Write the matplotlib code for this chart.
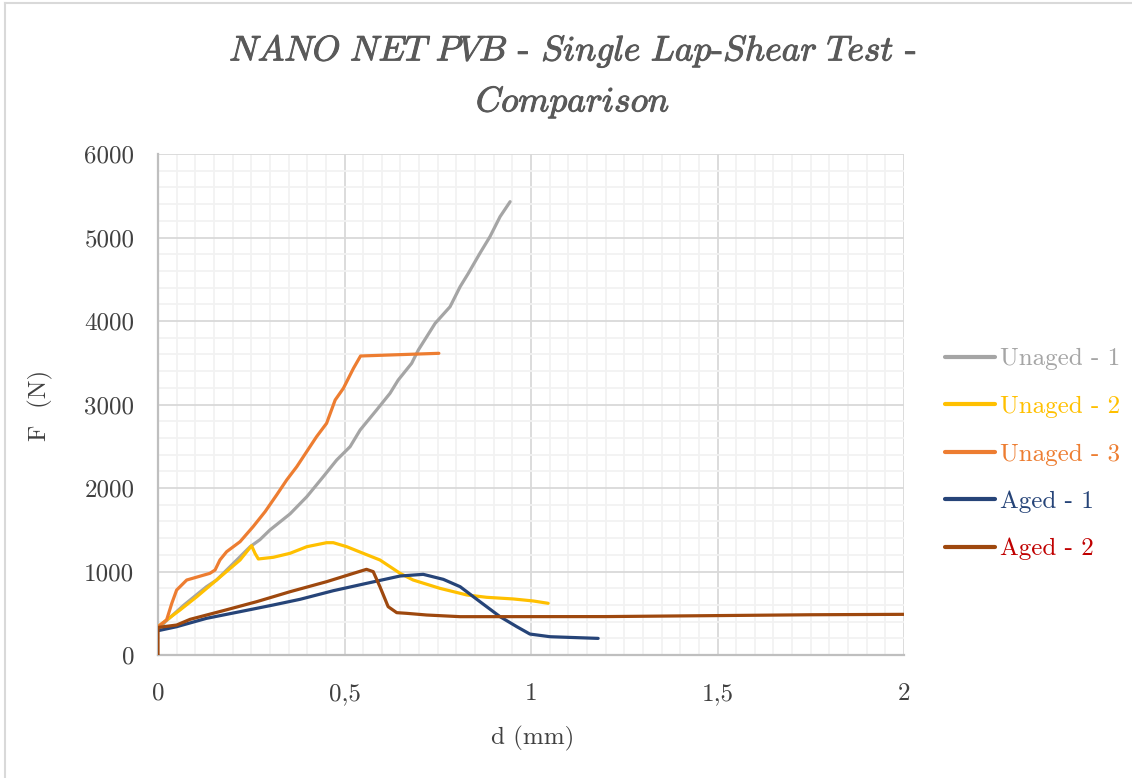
import matplotlib
matplotlib.use("Agg")
import matplotlib.pyplot as plt
import matplotlib.patheffects as pe
from matplotlib.ticker import FixedLocator, MultipleLocator, FuncFormatter
from matplotlib.lines import Line2D

# Displacement d (mm) and force F (N) for each lap-shear specimen
unaged1_d = [0.0, 0.02, 0.07, 0.13, 0.157, 0.22, 0.247, 0.273, 0.30, 0.354, 0.399,
             0.443, 0.479, 0.515, 0.542, 0.586, 0.622, 0.644, 0.680, 0.698, 0.743, 0.783, 0.81,
             0.832, 0.863, 0.89, 0.917, 0.944]
unaged1_F = [300, 400, 600, 818, 898, 1177, 1297, 1380, 1497, 1690, 1896,
             2135, 2335, 2495, 2695, 2934, 3134, 3293, 3493, 3653, 3972, 4171, 4411,
             4571, 4811, 5010, 5249, 5429]

unaged2_d = [0.0, 0.023, 0.059, 0.104, 0.157, 0.22, 0.251, 0.26, 0.269, 0.309, 0.354, 0.399,
             0.452, 0.470, 0.506, 0.55, 0.595, 0.649, 0.684, 0.756, 0.828, 0.881, 0.953,
             1.006, 1.046]
unaged2_F = [339, 419, 539, 698, 898, 1138, 1309, 1218, 1150, 1170, 1218, 1297,
             1345, 1345, 1297, 1218, 1138, 978, 898, 798, 719, 691, 671,
             647, 619]

unaged3_d = [0.0, 0.023, 0.037, 0.05, 0.077, 0.139, 0.153, 0.166, 0.184, 0.22, 0.255, 0.287,
             0.318, 0.345, 0.372, 0.425, 0.452, 0.475, 0.497, 0.524, 0.543, 0.753]
unaged3_F = [339, 419, 619, 778, 898, 978, 1018, 1138, 1237, 1357, 1537, 1716,
             1916, 2096, 2255, 2614, 2775, 3054, 3194, 3433, 3581, 3613]

aged1_d = [0.0, 0.05, 0.13, 0.22, 0.309, 0.381, 0.470, 0.559, 0.649, 0.711, 0.765, 0.81,
           0.863, 0.917, 0.962, 0.997, 1.051, 1.18]
aged1_F = [291, 339, 439, 519, 599, 667, 770, 858, 946, 966, 906, 818,
           639, 459, 339, 251, 219, 199]

aged2_d = [0.0, 0.0, 0.05, 0.086, 0.175, 0.265, 0.354, 0.452, 0.524, 0.559, 0.577, 0.595,
           0.617, 0.64, 0.667, 0.72, 0.81, 1.2, 1.5, 1.75, 2.0]
aged2_F = [0, 330, 359, 427, 531, 639, 758, 878, 978, 1026, 998, 818,
           579, 507, 499, 479, 459, 460, 472, 482, 487]

series_names = ["Unaged - 1", "Unaged - 2", "Unaged - 3", "Aged - 1", "Aged - 2"]
line_colors = ["#A5A5A5", "#FFC000", "#ED7D31", "#264478", "#9E480E"]
label_colors = ["#A5A5A5", "#FFC000", "#ED7D31", "#264478", "#C00000"]

x_ticks = [0, 0.5, 1, 1.5, 2]
y_ticks = [0, 1000, 2000, 3000, 4000, 5000, 6000]

title_line1 = r"$\mathit{NANO\ NET\ PVB}$ - $\mathit{Single\ Lap}$-$\mathit{Shear\ Test}$ -"
title_line2 = r"$\mathit{Comparison}$"

plt.rcParams["font.family"] = ["cmr10", "DejaVu Serif"]
plt.rcParams["mathtext.fontset"] = "cm"
plt.rcParams["axes.unicode_minus"] = False

W, H = 1132, 778
fig = plt.figure(figsize=(W / 100, H / 100), dpi=100)
ax = fig.add_axes([158 / W, 1 - 655 / H, (904 - 158) / W, (655 - 154) / H])

datasets = [(unaged1_d, unaged1_F), (unaged2_d, unaged2_F), (unaged3_d, unaged3_F),
            (aged1_d, aged1_F), (aged2_d, aged2_F)]
for (d, F), name, col in zip(datasets, series_names, line_colors):
    ax.plot(d, F, color=col, lw=2.3, solid_capstyle="round", solid_joinstyle="round",
            label=name, zorder=3)

ax.set_xlim(0, 2)
ax.set_ylim(0, 6000)
ax.xaxis.set_major_locator(FixedLocator(x_ticks))
ax.yaxis.set_major_locator(FixedLocator(y_ticks))
ax.xaxis.set_minor_locator(MultipleLocator(0.05))
ax.yaxis.set_minor_locator(MultipleLocator(200))
ax.xaxis.set_major_formatter(FuncFormatter(lambda v, p: f"{v:g}".replace(".", ",")))
ax.yaxis.set_major_formatter(FuncFormatter(lambda v, p: f"{v:.0f}"))

ax.grid(which="minor", color="#F2F2F2", lw=1.3, zorder=0)
ax.grid(which="major", color="#D9D9D9", lw=1.3, zorder=1)
ax.set_axisbelow(True)
for s in ["top", "right"]:
    ax.spines[s].set_visible(False)
for s in ["left", "bottom"]:
    ax.spines[s].set_color("#BFBFBF")
    ax.spines[s].set_linewidth(1.6)

ax.tick_params(which="both", length=0, labelsize=18, labelcolor="#404040")
ax.tick_params(axis="y", pad=17)
ax.tick_params(axis="x", pad=20)

title_fx = [pe.withStroke(linewidth=0.7, foreground="#595959")]
fig.text(573 / W, 1 - 51 / H, title_line1, ha="center", va="center", fontsize=25.5,
         color="#595959", path_effects=title_fx)
fig.text(573 / W, 1 - 102 / H, title_line2, ha="center", va="center", fontsize=25.5,
         color="#595959", path_effects=title_fx)

fig.text(40 / W, 1 - 405 / H, "F  (N)", rotation=90, ha="center", va="center",
         fontsize=18, color="#404040")
fig.text(533 / W, 1 - 738 / H, "d (mm)", ha="center", va="center",
         fontsize=18, color="#404040")

leg = ax.legend(loc="upper left", bbox_to_anchor=(945 / W, 1 - 348 / H),
                bbox_transform=fig.transFigure, frameon=False, fontsize=18,
                handlelength=2.0, handletextpad=0.2, labelspacing=1.0,
                borderaxespad=0, borderpad=0)
for txt, col in zip(leg.get_texts(), label_colors):
    txt.set_color(col)
for h in leg.get_lines():
    h.set_linewidth(3)

# chart frame edges
fig.add_artist(Line2D([5 / W, 5 / W], [0, 1 - 3 / H], transform=fig.transFigure,
                      color="#D9D9D9", lw=1.5))
fig.add_artist(Line2D([5 / W, 1], [1 - 3 / H, 1 - 3 / H], transform=fig.transFigure,
                      color="#D9D9D9", lw=1.5))

fig.savefig("out.png", dpi=100)
